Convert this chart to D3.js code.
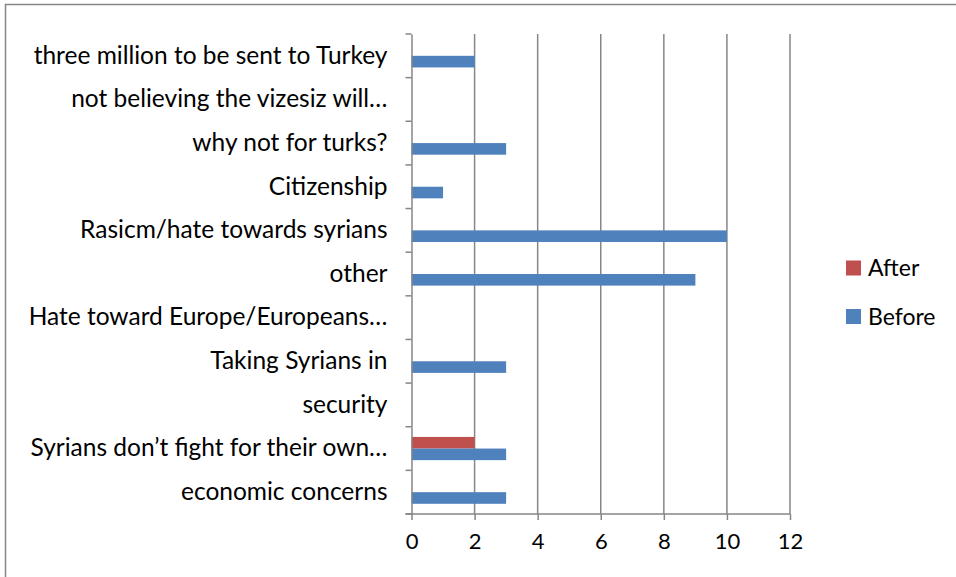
<!DOCTYPE html>
<html>
<head>
<meta charset="utf-8">
<script src="https://cdn.jsdelivr.net/npm/d3@7"></script>
<style>
  html, body { margin: 0; padding: 0; background: #fff; }
  svg { display: block; }
  text { font-family: Lato, "Open Sans", sans-serif; fill: #000; }
</style>
</head>
<body>
<svg id="chart" width="956" height="577"></svg>
<script>
// Categories, top to bottom
const categories = [
  "three million to be sent to Turkey",
  "not believing the vizesiz will…",
  "why not for turks?",
  "Citizenship",
  "Rasicm/hate towards syrians",
  "other",
  "Hate toward Europe/Europeans…",
  "Taking Syrians in",
  "security",
  "Syrians don’t fight for their own…",
  "economic concerns"
];
const seriesNames = ["After", "Before"];
const afterValues  = [0, 0, 0, 0, 0, 0, 0, 0, 0, 2, 0];
const beforeValues = [2, 0, 3, 1, 10, 9, 0, 3, 0, 3, 3];
const xTicks = [0, 2, 4, 6, 8, 10, 12];
const colors = { After: "#C0504D", Before: "#4F81BD" };

const svg = d3.select("#chart");

// chart frame
svg.append("rect")
  .attr("x", 5.5).attr("y", 4.5)
  .attr("width", 960).attr("height", 580)
  .attr("fill", "#fff")
  .attr("stroke", "#868686").attr("stroke-width", 1.5);

const plot = { left: 411.5, right: 790, top: 34, bottom: 514 };

const x = d3.scaleLinear().domain([0, 12]).range([plot.left, plot.right]);
const y = d3.scaleBand().domain(categories).range([plot.top, plot.bottom]).paddingInner(0).paddingOuter(0);
const inner = d3.scaleBand().domain(seriesNames)
  .range([0, y.bandwidth()]).paddingInner(0).paddingOuter(0.88);

// vertical gridlines
svg.append("g").selectAll("line")
  .data(xTicks.slice(1))
  .join("line")
  .attr("x1", d => x(d)).attr("x2", d => x(d))
  .attr("y1", plot.top).attr("y2", plot.bottom)
  .attr("stroke", "#868686").attr("stroke-width", 1.5);

// bars
const rows = categories.map((c, i) => ({ c, After: afterValues[i], Before: beforeValues[i] }));
const barG = svg.append("g");
seriesNames.forEach(s => {
  barG.selectAll("rect." + s)
    .data(rows.filter(r => r[s] > 0))
    .join("rect")
    .attr("class", s)
    .attr("x", x(0))
    .attr("y", r => y(r.c) + inner(s))
    .attr("width", r => x(r[s]) - x(0))
    .attr("height", inner.bandwidth())
    .attr("fill", colors[s]);
});

// y axis
const yAxis = d3.axisLeft(y).tickSize(0).tickPadding(24);
const yg = svg.append("g").attr("transform", `translate(${plot.left},0)`).call(yAxis);
yg.select(".domain").attr("stroke", "#868686").attr("stroke-width", 1.5);
yg.selectAll("text").attr("font-size", 24.5).attr("font-family", "Lato, sans-serif");
// category boundary ticks
svg.append("g").selectAll("line")
  .data(d3.range(categories.length + 1))
  .join("line")
  .attr("x1", plot.left - 6).attr("x2", plot.left)
  .attr("y1", i => plot.top + i * y.step()).attr("y2", i => plot.top + i * y.step())
  .attr("stroke", "#868686").attr("stroke-width", 1.5);

// x axis
const xAxis = d3.axisBottom(x).tickValues(xTicks).tickSize(6).tickPadding(13);
const xg = svg.append("g").attr("transform", `translate(0,${plot.bottom})`).call(xAxis);
xg.selectAll("line, .domain").attr("stroke", "#868686").attr("stroke-width", 1.5);
xg.select(".domain").attr("d", `M${plot.left - 6},0H${plot.right}`);
xg.selectAll("text").attr("font-size", 22).attr("font-family", "Lato, sans-serif");

// legend
const legend = svg.append("g");
seriesNames.forEach((s, i) => {
  const cy = 268 + i * 48.5;
  legend.append("rect")
    .attr("x", 846).attr("y", cy - 7.5)
    .attr("width", 15).attr("height", 15)
    .attr("fill", colors[s]);
  legend.append("text")
    .attr("x", 868).attr("y", cy)
    .attr("dy", "0.35em")
    .attr("font-size", 23)
    .text(s);
});
</script>
</body>
</html>
